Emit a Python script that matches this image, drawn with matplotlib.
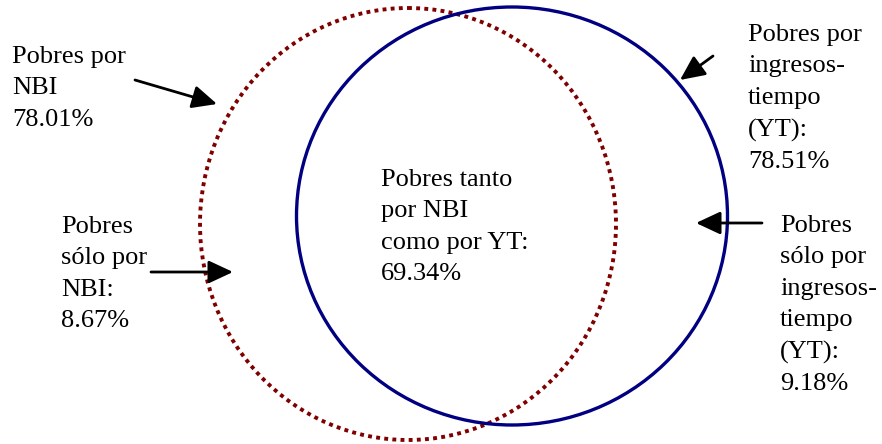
import matplotlib
matplotlib.use("Agg")
import matplotlib.pyplot as plt
from matplotlib.patches import Ellipse

# Data (percentages of population)
set_names = ["NBI", "YT"]
pct_nbi_total = 78.01
pct_yt_total = 78.51
pct_both = 69.34
pct_only_nbi = 8.67
pct_only_yt = 9.18

labels = [
    f"Pobres por\nNBI\n{pct_nbi_total:.2f}%",
    f"Pobres por\ningresos-\ntiempo\n(YT):\n{pct_yt_total:.2f}%",
    f"Pobres tanto\npor NBI\ncomo por YT:\n{pct_both:.2f}%",
    f"Pobres\nsólo por\nNBI:\n{pct_only_nbi:.2f}%",
    f"Pobres\nsólo por\ningresos-\ntiempo\n(YT):\n{pct_only_yt:.2f}%",
]

W, H = 882, 444
fig = plt.figure(figsize=(W / 100, H / 100), dpi=100)
ax = fig.add_axes([0, 0, 1, 1])
ax.set_xlim(0, W)
ax.set_ylim(H, 0)
ax.axis("off")

# circles (pixel layout)
red = Ellipse((408, 224), 416, 432, fill=False, edgecolor="#800000",
              lw=2.8, linestyle=(0, (1, 1.1)))
blue = Ellipse((512, 216), 431, 418, fill=False, edgecolor="#000080", lw=2.4)
ax.add_patch(red)
ax.add_patch(blue)

font = dict(family=["Liberation Serif", "DejaVu Serif"], fontsize=19,
            color="black", linespacing=1.55, ha="left", va="top")

text_pos = [(12, 46), (748, 24), (381, 169), (61, 216), (780, 215)]
for (x, y), s in zip(text_pos, labels):
    ax.text(x, y, s, **font)

arrows = [
    ((135, 80), (217, 104)),
    ((713, 56), (680, 80)),
    ((151, 272), (233, 272)),
    ((762, 223), (696, 223)),
]
for tail, tip in arrows:
    ax.annotate("", xy=tip, xytext=tail,
                arrowprops=dict(arrowstyle="-|>,head_length=0.75,head_width=0.35",
                                color="black", lw=2, mutation_scale=20,
                                shrinkA=0, shrinkB=0))

fig.savefig("out.png", dpi=100)
